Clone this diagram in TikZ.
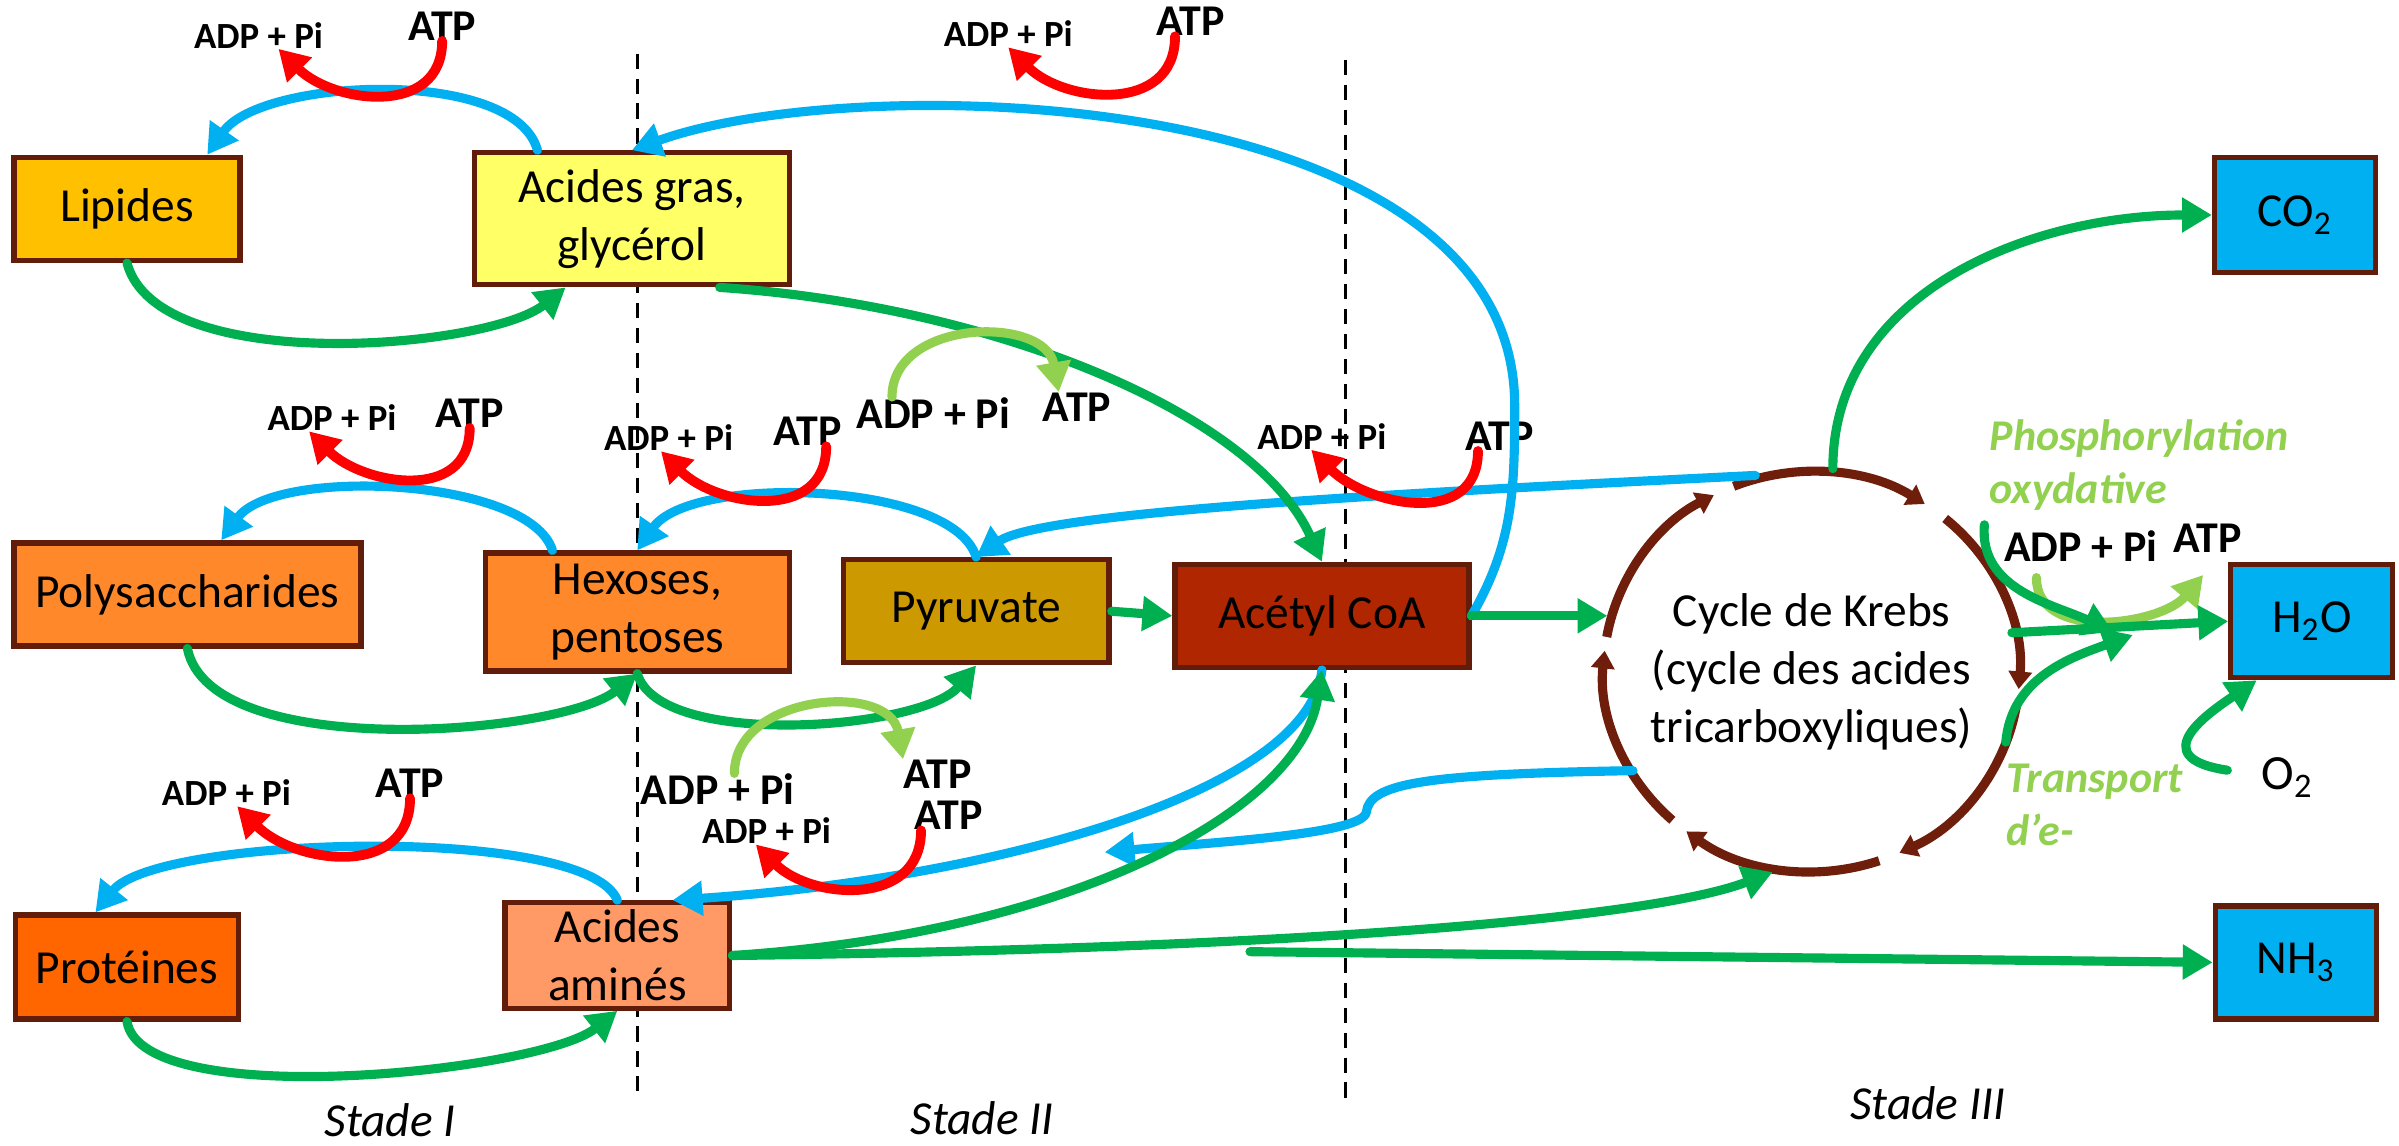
\documentclass[tikz,border=0pt]{standalone}
\usepackage{fontspec}
\setmainfont{Carlito}
\usetikzlibrary{arrows.meta}
\definecolor{bleuf}{RGB}{0,176,240}
\definecolor{vertf}{RGB}{0,176,80}
\definecolor{vertclair}{RGB}{146,208,80}
\definecolor{brun}{RGB}{97,29,10}
\definecolor{brunk}{RGB}{112,30,12}
\definecolor{jauneor}{RGB}{255,192,0}
\definecolor{jaunecl}{RGB}{255,255,102}
\definecolor{orangef}{RGB}{255,137,42}
\definecolor{moutarde}{RGB}{204,153,0}
\definecolor{rouille}{RGB}{176,38,0}
\definecolor{orangevif}{RGB}{255,102,0}
\definecolor{saumon}{RGB}{255,153,102}
\tikzset{
    %Define standard arrow tip
    >={Triangle[length=8.5pt,width=9.5pt]},
    %Define style for boxes
    boite/.style={
           rectangle,
           draw=brun, line width=1.5pt,
           inner sep=2pt,
           align=center,
           font=\fontsize{13.5}{16.5}\selectfont},
    % Define arrow styles
    flbleu/.style={->, draw=bleuf, line width=2.6pt, line cap=round},
    flvert/.style={->, draw=vertf, line width=2.6pt, line cap=round},
    flclair/.style={->, draw=vertclair, line width=2.6pt, line cap=round},
    flrouge/.style={->, draw=red, line width=2.8pt, line cap=round},
    flcycle/.style={-{Triangle[length=5pt,width=6.5pt]}, draw=brunk, line width=2.6pt},
    % Define styles for labels
    adp/.style={inner sep=0pt, font=\bfseries\fontsize{10.5}{12}\selectfont},
    adpg/.style={inner sep=0pt, font=\bfseries\fontsize{12.5}{14}\selectfont},
    atp/.style={inner sep=0pt, font=\bfseries\fontsize{12.5}{14}\selectfont},
    stade/.style={font=\itshape\fontsize{13.5}{16}\selectfont},
    legende/.style={
           text=vertclair, align=left, inner sep=0pt,
           font=\bfseries\itshape\fontsize{12.5}{15}\selectfont}
}

\begin{document}
\begin{tikzpicture}[x=0.0153cm, y=-0.0153cm]
\useasboundingbox (0,0) rectangle (1568,748.4);

% separateurs des stades
\draw[line width=0.9pt, dash pattern=on 4.3pt off 2.8pt] (416.5,35) -- (416.5,717);
\draw[line width=0.9pt, dash pattern=on 4.3pt off 2.8pt] (879.5,39) -- (879.5,722);

% boites
\node[boite, fill=jauneor, minimum width=2.26cm, minimum height=1.03cm] (lip) at (83,136.5) {Lipides};
\node[boite, fill=jaunecl, minimum width=3.15cm, minimum height=1.32cm] (agras) at (413,143) {Acides gras,\\glycérol};
\node[boite, fill=orangef, minimum width=3.47cm, minimum height=1.03cm] (poly) at (122.5,388.5) {Polysaccharides};
\node[boite, fill=orangef, minimum width=3.04cm, minimum height=1.18cm] (hex) at (416.5,400) {Hexoses,\\pentoses};
\node[boite, fill=moutarde, minimum width=2.66cm, minimum height=1.03cm] (pyr) at (638,399.5) {Pyruvate};
\node[boite, fill=rouille, minimum width=2.94cm, minimum height=1.03cm] (acoa) at (864,402.5) {Acétyl CoA};
\node[boite, fill=orangevif, minimum width=2.23cm, minimum height=1.04cm] (prot) at (83,632) {Protéines};
\node[boite, fill=saumon, minimum width=2.25cm, minimum height=1.03cm] (aam) at (403.5,624.5) {Acides\\aminés};
\node[boite, fill=bleuf, minimum width=1.61cm, minimum height=1.15cm] (co2) at (1500,140.5) {CO\textsubscript{2}};
\node[boite, fill=bleuf, minimum width=1.62cm, minimum height=1.13cm] (h2o) at (1511,406) {H\textsubscript{2}O};
\node[boite, fill=bleuf, minimum width=1.61cm, minimum height=1.13cm] (nh3) at (1500.5,629) {NH\textsubscript{3}};

% cycle de Krebs
\node[circle, minimum size=4.07cm, inner sep=0pt, align=center,
      font=\fontsize{13.5}{16.5}\selectfont] (krebs) at (1184,439)
      {Cycle de Krebs\\(cycle des acides\\tricarboxyliques)};
\foreach \a/\b in {112/57, 50/-5, -10/-65, -71/-127, -132/-186, 170/118}
  \draw[flcycle] ([shift={(\a:2.08cm and 2.0cm)}]krebs.center)
    arc[start angle=\a, end angle=\b, x radius=2.08cm, y radius=2.0cm];

% ATP / ADP
\node[adp] (adp1) at (169,23) {ADP + Pi};
\node[atp] (atp1) at (289,17) {ATP};
\node[adp] (adp2) at (659,22) {ADP + Pi};
\node[atp] (atp2) at (778,14) {ATP};
\node[adp] (adp3) at (217,273) {ADP + Pi};
\node[atp] (atp3) at (307,270) {ATP};
\node[adp] (adp4) at (437,286) {ADP + Pi};
\node[atp] (atp4) at (528,282) {ATP};
\node[adpg] (adpa) at (610,270) {ADP + Pi};
\node[atp] (atpa) at (704,266) {ATP};
\node[adp] (adp5) at (864,285) {ADP + Pi};
\node[atp] (atp5) at (980,285) {ATP};
\node[adp] (adp6) at (148,518) {ADP + Pi};
\node[atp] (atp6) at (268,512) {ATP};
\node[adpg] (adpb) at (469,516) {ADP + Pi};
\node[atp] (atpb) at (613,506) {ATP};
\node[adp] (adp7) at (501,543) {ADP + Pi};
\node[atp] (atp7) at (620,533) {ATP};
\node[adpg] (adpox) at (1360,357) {ADP + Pi};
\node[atp] (atpox) at (1443,352) {ATP};

% legendes
\node[legende, anchor=west] (phos) at (1300,304) {Phosphorylation\\oxydative};
\node[legende, anchor=west] (transp) at (1311,526) {Transport\\d’e-};
\node[inner sep=0pt, font=\fontsize{14}{16}\selectfont] (o2) at (1495,508) {O\textsubscript{2}};
\node[stade] (st1) at (255,732) {Stade I};
\node[stade] (st2) at (642,731) {Stade II};
\node[stade] (st3) at (1260,721) {Stade III};

% points libres
\coordinate (bcoude) at (990,265);
\coordinate (bvague) at (893,531);
\coordinate (bfin) at (722,557);
\coordinate (nhdeb) at (817,622);
\coordinate (phA) at (1297,343);
\coordinate (phB) at (1381,413);
\coordinate (trA) at (1311,485);
\coordinate (trB) at (1394,415);

% fleches bleues
\draw[flbleu] (agras.144) .. controls +(-15,-55) and +(35,-50) .. (lip.34);
\draw[flbleu] (hex.144) .. controls +(-15,-48) and +(35,-48) .. (poly.58);
\draw[flbleu] (aam.north) .. controls +(-20,-50) and +(40,-50) .. (prot.120);
\draw[flbleu] (pyr.north) .. controls +(-15,-50) and +(35,-50) .. (hex.north);
\draw[flbleu] (acoa.east) to[out=60,in=-90] (bcoude) .. controls (990,55) and (560,45) .. (agras.north);
\draw[flbleu] (krebs.106) .. controls (900,323) and (680,335) .. (pyr.north);
\draw[flbleu] (acoa.south) .. controls (855,520) and (640,575) .. (aam.45);
\draw[flbleu] (krebs.209) .. controls (930,506) and (895,512) .. (bvague)
  .. controls (890,545) and (800,550) .. (bfin);

% fleches rouges (ATP -> ADP + Pi)
\draw[flrouge] (atp1.south) to[out=-90,in=-45,looseness=1.2] ([shift={(13,0)}]adp1.south);
\draw[flrouge] ([shift={(-10,0)}]atp2.south) to[out=-90,in=-45,looseness=1.2] (adp2.south);
\draw[flrouge] (atp3.south) to[out=-90,in=-45,looseness=1.2] ([shift={(-15,0)}]adp3.south);
\draw[flrouge] ([shift={(12,0)}]atp4.south) to[out=-90,in=-45,looseness=1.2] ([shift={(-5,0)}]adp4.south);
\draw[flrouge] ([shift={(-14,0)}]atp5.south) to[out=-90,in=-45,looseness=1.2] ([shift={(-7,0)}]adp5.south);
\draw[flrouge] (atp6.south) to[out=-90,in=-45,looseness=1.2] ([shift={(7,0)}]adp6.south);
\draw[flrouge] ([shift={(-18,0)}]atp7.south) to[out=-90,in=-45,looseness=1.2] ([shift={(-7,0)}]adp7.south);

% fleche vert clair vers H2O
\draw[flclair] ([shift={(-29,10)}]adpox.south) to[out=-90,in=-130] ([shift={(-3,14)}]atpox.south);

% fleches vertes
\draw[flvert] (lip.south) .. controls +(20,75) and +(-50,40) .. (agras.226);
\draw[flvert] (poly.south) .. controls +(15,75) and +(-50,40) .. (hex.south);
\draw[flvert] (prot.south) .. controls +(10,60) and +(-50,40) .. (aam.south);
\draw[flvert] (hex.south) .. controls +(15,50) and +(-35,42) .. (pyr.south);
\draw[flvert] (agras.-38) .. controls (650,200) and (820,270) .. (acoa.north);
\draw[flvert] (pyr.east) -- (acoa.west);
\draw[flvert] (acoa.east) -- (acoa.east -| krebs.west);
\draw[flvert] (aam.east) .. controls (700,610) and (850,530) .. (acoa.south);
\draw[flvert] (aam.east) .. controls (850,620) and (1080,600) .. (krebs.259);
\draw[flvert] (nhdeb) -- (nh3.west);
\draw[flvert] (krebs.84) to[out=90,in=180] (co2.west);
\draw[flvert] (krebs.11) -- (h2o.west);
\draw[flvert] (phA) to[out=-95,in=155] (phB);
\draw[flvert] (trA) to[out=85,in=200] (trB);
\draw[flvert] ([xshift=-9.5pt,yshift=2pt]o2.west) .. controls (1400,495) and (1445,465) .. (h2o.-133);

% fleches vert clair (ADP + Pi -> ATP)
\draw[flclair] ([shift={(-27,0)}]adpa.north) to[out=90,in=100,looseness=1.2] ([shift={(-12,0)}]atpa.north);
\draw[flclair] ([shift={(11,0)}]adpb.north) to[out=90,in=100,looseness=1.2] (atpb.north west);
\end{tikzpicture}
\end{document}
